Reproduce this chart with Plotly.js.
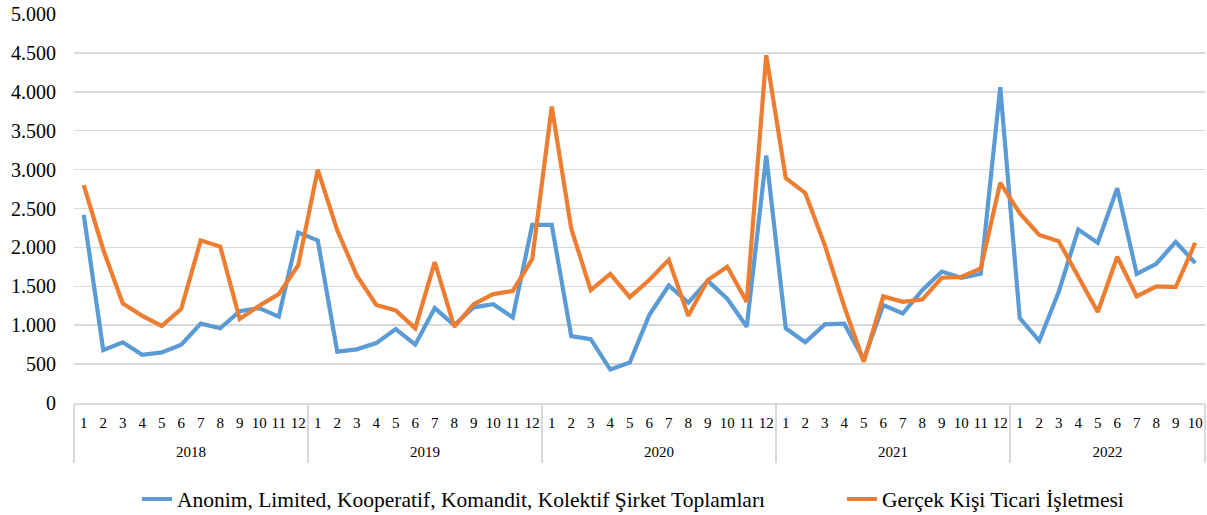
<!DOCTYPE html>
<html>
<head>
<meta charset="utf-8">
<script src="https://cdn.plot.ly/plotly-3.0.1.min.js"></script>
<style>html,body{margin:0;padding:0;background:#fff;}#chart{width:1207px;height:515px;}</style>
</head>
<body>
<div id="chart"></div>
<script>
var years = ["2018", "2019", "2020", "2021", "2022"];
var monthsPerYear = [12, 12, 12, 12, 10];
var seriesNames = ["Anonim, Limited, Kooperatif, Komandit, Kolektif Şirket Toplamları", "Gerçek Kişi Ticari İşletmesi"];
var sirket = [
  2420, 680, 780, 620, 650, 750, 1020, 960, 1180, 1220, 1110, 2190,
  2090, 660, 690, 770, 950, 750, 1220, 1000, 1230, 1270, 1100, 2290,
  2290, 860, 820, 430, 520, 1130, 1510, 1290, 1570, 1340, 980, 3180,
  960, 780, 1010, 1020, 560, 1260, 1150, 1450, 1690, 1610, 1660, 4060,
  1090, 800, 1430, 2230, 2060, 2760, 1660, 1790, 2070, 1800
];
var gercek = [
  2800, 1970, 1280, 1120, 990, 1210, 2090, 2010, 1080, 1250, 1400, 1770,
  3000, 2220, 1640, 1260, 1190, 960, 1810, 980, 1270, 1400, 1440, 1850,
  3810, 2240, 1450, 1660, 1360, 1580, 1840, 1120, 1580, 1750, 1300, 4470,
  2890, 2700, 2030, 1240, 530, 1370, 1300, 1330, 1610, 1620, 1730, 2830,
  2440, 2160, 2080, 1620, 1170, 1880, 1370, 1500, 1490, 2060
];

// category positions, month labels, year centres and year boundaries
var idx = [], monthLabels = [], yearCentres = [], yearBounds = [-0.5];
var k = 0;
years.forEach(function (y, i) {
  var start = k;
  for (var m = 1; m <= monthsPerYear[i]; m++) { idx.push(k); monthLabels.push(String(m)); k++; }
  yearCentres.push((start + k - 1) / 2);
  yearBounds.push(k - 0.5);
});
var nCat = idx.length;
var xr = [-0.5, nCat - 0.5];
function nulls(a) { return a.map(function () { return null; }); }

var font = "Liberation Serif, Times New Roman, serif";
var traces = [
  {x: idx, y: sirket, name: seriesNames[0], type: 'scatter', mode: 'lines', legend: 'legend',
   line: {color: '#5B9BD5', width: 4.2}},
  {x: idx, y: gercek, name: seriesNames[1], type: 'scatter', mode: 'lines', legend: 'legend2',
   line: {color: '#ED7D31', width: 4.2}},
  // carriers for the year-label axis and the divider axis (no visible marks)
  {x: yearCentres, y: nulls(yearCentres), xaxis: 'x2', type: 'scatter', mode: 'lines',
   showlegend: false, hoverinfo: 'skip'},
  {x: yearBounds, y: nulls(yearBounds), xaxis: 'x3', type: 'scatter', mode: 'lines',
   showlegend: false, hoverinfo: 'skip'}
];
var legFont = {family: font, size: 21.5, color: '#000'};
var tickFont = {family: font, size: 15, color: '#000'};
var layout = {
  width: 1207, height: 515,
  margin: {l: 74, r: 2, t: 14, b: 112},
  paper_bgcolor: '#fff', plot_bgcolor: '#fff',
  separators: ',.',
  font: {family: font, color: '#000'},
  showlegend: true,
  legend: {orientation: 'h', xref: 'container', yref: 'container', x: 0.1135, xanchor: 'left',
           y: 0.031, yanchor: 'middle', font: legFont, bgcolor: 'rgba(0,0,0,0)'},
  legend2: {orientation: 'h', xref: 'container', yref: 'container', x: 0.6976, xanchor: 'left',
            y: 0.031, yanchor: 'middle', font: legFont, bgcolor: 'rgba(0,0,0,0)'},
  xaxis: {range: xr, automargin: false, showgrid: false, showline: true, zeroline: false,
          linecolor: '#d9d9d9', linewidth: 1.5, tickangle: 0,
          tickmode: 'array', tickvals: idx, ticktext: monthLabels,
          ticks: '', tickfont: tickFont, ticklabelstandoff: 5},
  xaxis2: {overlaying: 'x', anchor: 'y', side: 'bottom', range: xr, automargin: false,
           showgrid: false, showline: false, zeroline: false, tickangle: 0,
           tickmode: 'array', tickvals: yearCentres, ticktext: years,
           ticks: '', tickfont: tickFont, ticklabelstandoff: 38},
  xaxis3: {overlaying: 'x', anchor: 'y', side: 'bottom', range: xr, automargin: false,
           showgrid: false, showline: false, zeroline: false, showticklabels: false,
           tickmode: 'array', tickvals: yearBounds,
           ticks: 'outside', ticklen: 59, tickwidth: 1.5, tickcolor: '#d9d9d9'},
  yaxis: {range: [0, 5000], dtick: 500, tick0: 0, automargin: false, showgrid: true, gridcolor: '#d9d9d9', gridwidth: 1.5,
          zeroline: false, showline: false, ticks: '', separatethousands: true, tickformat: ',d',
          tickfont: {family: font, size: 20, color: '#000'}, ticklabelstandoff: 17}
};
Plotly.newPlot('chart', traces, layout, {displayModeBar: false, staticPlot: true});
</script>
</body>
</html>
